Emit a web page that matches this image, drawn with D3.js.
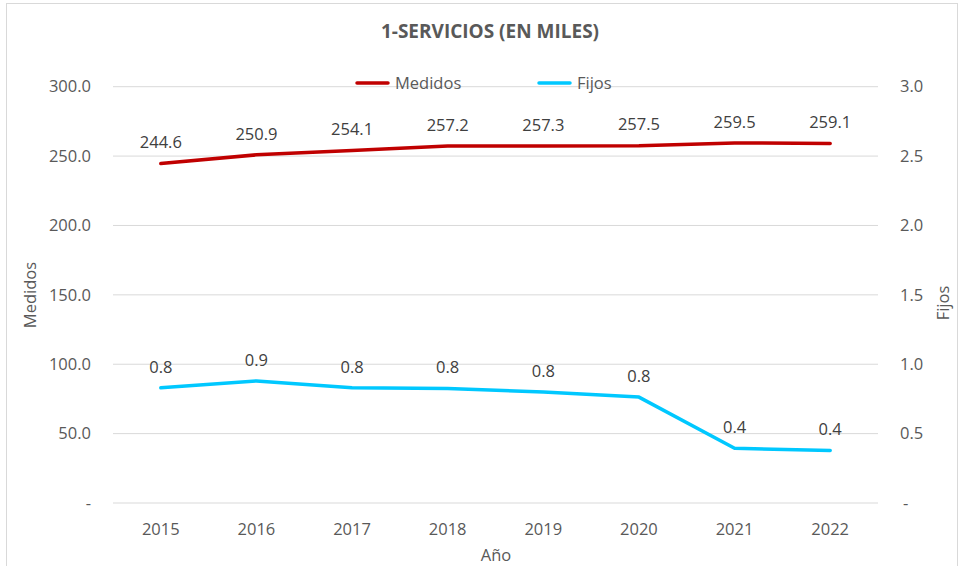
<!DOCTYPE html>
<html>
<head>
<meta charset="utf-8">
<script src="https://cdn.jsdelivr.net/npm/d3@7"></script>
<style>
  body { margin: 0; background: #fff; }
  svg { font-family: "Open Sans", sans-serif; }
</style>
</head>
<body>
<svg id="chart" width="964" height="566"></svg>
<script>
const years = ["2015", "2016", "2017", "2018", "2019", "2020", "2021", "2022"];
const medidos = [244.6, 250.9, 254.1, 257.2, 257.3, 257.5, 259.5, 259.1];
const fijos = [0.83, 0.88, 0.83, 0.826, 0.80, 0.763, 0.394, 0.379];
const leftTicks = [0, 50, 100, 150, 200, 250, 300];
const rightTicks = [0, 0.5, 1, 1.5, 2, 2.5, 3];

const svg = d3.select("#chart");
const M = { left: 113, right: 878, top: 86.7, bottom: 503 };
const FS = 16.5;

// frame
svg.append("rect")
  .attr("x", 6.5).attr("y", 3.5)
  .attr("width", 951).attr("height", 570)
  .attr("fill", "none").attr("stroke", "#d9d9d9");

const x = d3.scaleBand().domain(years).range([M.left, M.right]);
const yL = d3.scaleLinear().domain([0, 300]).range([M.bottom, M.top]);
const yR = d3.scaleLinear().domain([0, 3]).range([M.bottom, M.top]);

// gridlines
svg.append("g").selectAll("line")
  .data(leftTicks)
  .join("line")
  .attr("x1", M.left).attr("x2", M.right)
  .attr("y1", d => yL(d)).attr("y2", d => yL(d))
  .attr("stroke", "#d9d9d9").attr("stroke-width", 1);

const fmtL = d => d === 0 ? "-" : d3.format(".1f")(d);

// left axis labels
svg.append("g").selectAll("text")
  .data(leftTicks)
  .join("text")
  .attr("x", 91).attr("y", d => yL(d))
  .attr("dy", "0.35em")
  .attr("text-anchor", "end")
  .attr("font-size", FS).attr("fill", "#595959")
  .text(fmtL);

// right axis labels
svg.append("g").selectAll("text")
  .data(rightTicks)
  .join("text")
  .attr("x", d => d === 0 ? 903 : 900).attr("y", d => yR(d))
  .attr("dy", "0.35em")
  .attr("text-anchor", "start")
  .attr("font-size", FS).attr("fill", "#595959")
  .text(fmtL);

// x labels
svg.append("g").selectAll("text")
  .data(years)
  .join("text")
  .attr("x", d => x(d) + x.bandwidth() / 2).attr("y", 529)
  .attr("dy", "0.35em")
  .attr("text-anchor", "middle")
  .attr("font-size", FS).attr("fill", "#595959")
  .text(d => d);

// lines
const cx = i => x(years[i]) + x.bandwidth() / 2;
const lineL = d3.line().x((d, i) => cx(i)).y(d => yL(d));
const lineR = d3.line().x((d, i) => cx(i)).y(d => yR(d));

svg.append("path").datum(medidos)
  .attr("d", lineL).attr("fill", "none")
  .attr("stroke", "#c00000").attr("stroke-width", 3.5)
  .attr("stroke-linecap", "round").attr("stroke-linejoin", "round");

svg.append("path").datum(fijos)
  .attr("d", lineR).attr("fill", "none")
  .attr("stroke", "#00c8ff").attr("stroke-width", 3.5)
  .attr("stroke-linecap", "round").attr("stroke-linejoin", "round");

// data labels
svg.append("g").selectAll("text")
  .data(medidos)
  .join("text")
  .attr("x", (d, i) => cx(i)).attr("y", d => yL(d) - 21)
  .attr("dy", "0.35em")
  .attr("text-anchor", "middle")
  .attr("font-size", FS).attr("fill", "#404040")
  .text(d => d3.format(".1f")(d));

svg.append("g").selectAll("text")
  .data(fijos)
  .join("text")
  .attr("x", (d, i) => cx(i)).attr("y", d => yR(d) - 21)
  .attr("dy", "0.35em")
  .attr("text-anchor", "middle")
  .attr("font-size", FS).attr("fill", "#404040")
  .text(d => d3.format(".1f")(d));

// title
svg.append("text")
  .attr("x", 490).attr("y", 31)
  .attr("dy", "0.35em")
  .attr("text-anchor", "middle")
  .attr("font-size", 19).attr("font-weight", "bold")
  .attr("fill", "#595959")
  .text("1-SERVICIOS (EN MILES)");

// legend
const legend = [
  { name: "Medidos", color: "#c00000", x: 357 },
  { name: "Fijos", color: "#00c8ff", x: 539 }
];
const lg = svg.append("g").selectAll("g")
  .data(legend)
  .join("g")
  .attr("transform", d => `translate(${d.x},83)`);
lg.append("line")
  .attr("x1", 0).attr("x2", 31)
  .attr("stroke", d => d.color).attr("stroke-width", 3.5)
  .attr("stroke-linecap", "round");
lg.append("text")
  .attr("x", 38).attr("dy", "0.35em")
  .attr("font-size", FS).attr("fill", "#595959")
  .text(d => d.name);

// axis titles
svg.append("text")
  .attr("transform", "translate(30,295) rotate(-90)")
  .attr("dy", "0.35em")
  .attr("text-anchor", "middle")
  .attr("font-size", FS).attr("fill", "#595959")
  .text("Medidos");

svg.append("text")
  .attr("transform", "translate(943,303) rotate(-90)")
  .attr("dy", "0.35em")
  .attr("text-anchor", "middle")
  .attr("font-size", FS).attr("fill", "#595959")
  .text("Fijos");

svg.append("text")
  .attr("x", 496).attr("y", 555)
  .attr("dy", "0.35em")
  .attr("text-anchor", "middle")
  .attr("font-size", FS).attr("fill", "#595959")
  .text("Año");
</script>
</body>
</html>
